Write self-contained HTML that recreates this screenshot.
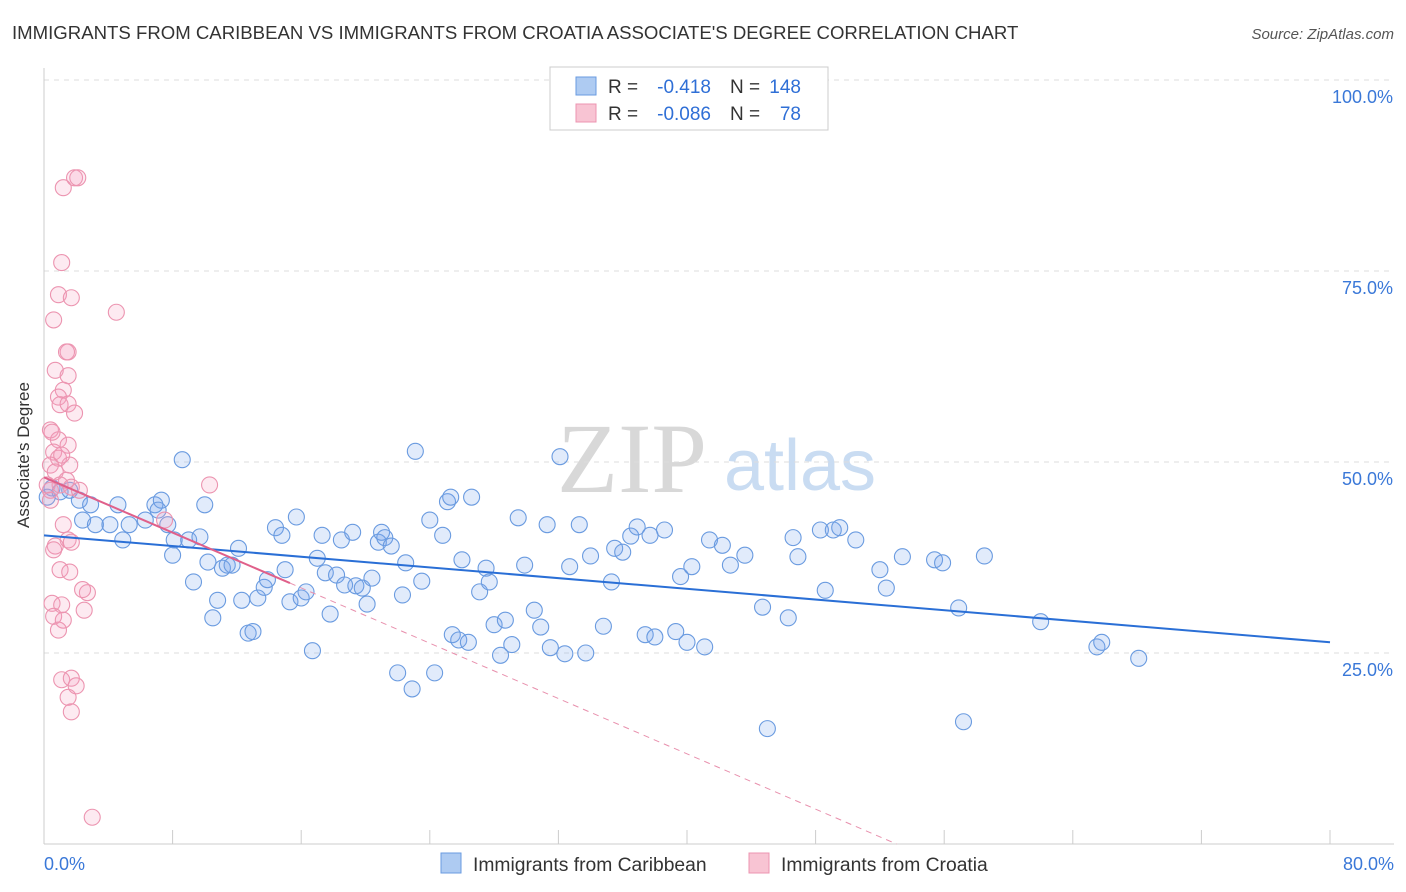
<!DOCTYPE html>
<html><head><meta charset="utf-8"><style>
body{margin:0;background:#fff;font-family:"Liberation Sans",sans-serif;}
#wrap{position:relative;width:1406px;height:892px;overflow:hidden}
</style></head><body>
<div id="wrap">
<svg id="chart" width="1406" height="892" xmlns="http://www.w3.org/2000/svg">
<text x="12" y="39" font-size="18.6" fill="#333">IMMIGRANTS FROM CARIBBEAN VS IMMIGRANTS FROM CROATIA ASSOCIATE'S DEGREE CORRELATION CHART</text>
<text x="1394" y="39" font-size="15" fill="#555" font-style="italic" text-anchor="end">Source: ZipAtlas.com</text>
<text x="632" y="492" font-size="100" fill="#d8d8d8" font-family="Liberation Serif,serif" text-anchor="middle">ZIP</text>
<text x="800" y="490" font-size="72" fill="#c9dcf2" text-anchor="middle">atlas</text>
<g id="grid"></g><g id="axes"></g><g id="pts"></g><g id="trends"></g>
<text x="29" y="455" font-size="17" fill="#333" text-anchor="middle" transform="rotate(-90 29 455)">Associate's Degree</text>
<g>
<rect x="550" y="67" width="278" height="63" fill="#fff" stroke="#ccc"/>
<rect x="576" y="77" width="20" height="18" fill="#aecbf2" stroke="#6a9be0"/>
<rect x="576" y="104" width="20" height="18" fill="#f8c4d3" stroke="#ec94b0"/>
<text x="608" y="93" font-size="19" fill="#333">R =</text>
<text x="711" y="93" font-size="19" fill="#2f6fd6" text-anchor="end">-0.418</text>
<text x="730" y="93" font-size="19" fill="#333">N =</text>
<text x="801" y="93" font-size="19" fill="#2f6fd6" text-anchor="end">148</text>
<text x="608" y="120" font-size="19" fill="#333">R =</text>
<text x="711" y="120" font-size="19" fill="#2f6fd6" text-anchor="end">-0.086</text>
<text x="730" y="120" font-size="19" fill="#333">N =</text>
<text x="801" y="120" font-size="19" fill="#2f6fd6" text-anchor="end">78</text>
</g>
<g>
<rect x="441" y="853" width="20" height="20" fill="#aecbf2" stroke="#6a9be0"/>
<text x="473" y="871" font-size="19.3" fill="#333">Immigrants from Caribbean</text>
<rect x="749" y="853" width="20" height="20" fill="#f8c4d3" stroke="#ec94b0"/>
<text x="781" y="871" font-size="19.3" fill="#333">Immigrants from Croatia</text>
</g>
</svg></div>
<script>
const xTicks=[0,10,20,30,40,50,60,70,80];
const yTicks=[25,50,75,100];
const blueX=[0.5,1.0,1.6,0.2,2.2,2.9,2.4,3.2,4.1,4.6,4.9,5.3,6.3,6.9,7.3,7.1,7.7,8.1,8.0,8.6,9.3,9.0,9.7,10.0,10.2,10.5,10.8,11.1,11.4,11.7,12.1,12.3,12.7,13.0,13.3,13.7,13.9,14.4,14.8,15.0,15.3,15.7,16.0,16.3,16.7,17.0,17.3,17.5,17.8,18.2,18.5,18.7,19.2,19.4,19.8,20.1,20.4,20.8,21.0,21.2,21.6,22.0,22.3,22.5,22.9,23.1,23.5,24.0,24.3,24.8,25.1,25.3,25.4,25.8,26.0,26.4,26.6,27.1,27.5,27.7,28.0,28.4,28.7,29.1,29.5,29.9,30.5,30.9,31.3,31.5,32.1,32.4,32.7,33.3,33.7,34.0,34.8,35.3,35.5,36.0,36.5,36.9,37.4,37.7,38.0,38.6,39.6,39.3,40.0,40.3,41.1,41.4,42.2,42.7,43.6,44.7,45.0,46.3,46.6,46.9,48.6,48.3,49.1,49.5,50.5,52.0,52.4,53.4,55.4,55.9,56.9,57.2,58.5,62.0,65.5,65.8,68.1];
const blueY=[46.6,46.1,46.3,45.4,45.0,44.4,42.4,41.8,41.8,44.4,39.8,41.8,42.4,44.4,45.0,43.7,41.8,39.8,37.8,50.3,34.3,39.8,40.2,44.4,36.9,29.6,31.9,36.1,36.5,36.5,38.7,31.9,27.6,27.8,32.2,33.6,34.6,41.4,40.4,35.9,31.7,42.8,32.2,33.0,25.3,37.4,40.4,35.5,30.1,35.2,39.8,33.9,40.8,33.8,33.5,31.4,34.8,39.5,40.8,40.1,39.0,22.4,32.6,36.8,20.3,51.4,34.4,42.4,22.4,40.4,44.8,45.4,27.4,26.7,37.2,26.4,45.4,33.0,36.1,34.3,28.7,24.7,29.3,26.1,42.7,36.5,30.6,28.4,41.8,25.7,50.7,24.9,36.3,41.8,25.0,37.7,28.5,34.3,38.7,38.2,40.3,41.5,27.4,40.4,27.1,41.1,35.0,27.8,26.4,36.3,25.8,39.8,39.1,36.5,37.8,31.0,15.1,29.6,40.1,37.6,33.2,41.1,41.1,41.4,39.8,35.9,33.5,37.6,37.2,36.8,30.9,16.0,37.7,29.1,25.8,26.4,24.3];
const pinkX=[1.2,1.9,2.1,1.1,0.9,1.7,0.6,4.5,1.5,1.4,0.7,1.5,1.2,0.9,1.0,1.5,1.9,0.4,0.9,1.5,0.6,0.9,0.4,1.6,0.7,1.4,0.4,1.0,1.7,2.2,10.3,1.2,1.5,1.7,0.7,0.6,1.0,1.6,2.7,2.4,2.5,0.5,1.1,0.6,1.2,0.9,1.1,1.7,1.5,2.0,1.7,3.0,7.5,0.2,0.5,1.1,0.4];
const pinkY=[85.9,87.2,87.2,76.1,71.9,71.5,68.6,69.6,64.4,64.4,62.0,61.3,59.4,58.5,57.5,57.6,56.4,54.2,52.9,52.2,51.3,50.5,49.6,49.6,48.7,47.6,46.3,47.0,46.7,46.3,47.0,41.8,39.8,39.5,39.0,38.5,35.9,35.6,32.9,33.3,30.6,31.5,31.3,29.8,29.3,28.0,21.5,21.7,19.2,20.7,17.3,3.5,42.4,47.0,53.9,50.9,45.0];
const blueTrend=[40.4,26.4];
const pinkTrend=[48.0,-0.905];
const X=v=>44+v*16.075, Y=v=>844-v*7.64;
const NS="http://www.w3.org/2000/svg";
function mk(tag,parent,attrs){const e=document.createElementNS(NS,tag);for(const k in attrs)e.setAttribute(k,attrs[k]);document.getElementById(parent).appendChild(e);return e;}
yTicks.forEach(t=>{
 const l=mk('line','grid',{x1:44,x2:1394,y1:Y(t),y2:Y(t),stroke:'#ddd','stroke-dasharray':'5,5'});
 
 
 const tx=mk('text','axes',{x:1393,y:Y(t)+23,'font-size':18,fill:'#3a78d8','text-anchor':'end'});
 tx.textContent=t.toFixed(1)+'%';
 
 
});
const ax=mk('line','axes',{x1:44,x2:1394,y1:844,y2:844,stroke:'#ccc'});


const ay=mk('line','axes',{x1:44,x2:44,y1:68,y2:844,stroke:'#ccc'});


for(let i=0;i<=10;i++){const v=i*8;
 const tk=mk('line','axes',{x1:X(v),x2:X(v),y1:830,y2:844,stroke:'#ccc'});
 
 }
[[0,'0.0%','start',44],[80,'80.0%','end',1394]].forEach(a=>{
 const t=mk('text','axes',{x:a[3],y:870,'font-size':18,fill:'#3a78d8','text-anchor':a[2]});t.textContent=a[1];
 
 });
blueX.forEach((x,i)=>{
 const c=mk('circle','pts',{cx:X(x),cy:Y(blueY[i]),r:8,fill:'rgba(120,165,235,0.22)',stroke:'#6a9be0','stroke-width':1.1});
 
 });
pinkX.forEach((x,i)=>{
 const c=mk('circle','pts',{cx:X(x),cy:Y(pinkY[i]),r:8,fill:'rgba(245,160,190,0.22)',stroke:'#ec94b0','stroke-width':1.1});
 
 });
const bl=mk('line','trends',{x1:X(0),y1:Y(blueTrend[0]),x2:X(80),y2:Y(blueTrend[1]),stroke:'#2a6fd6','stroke-width':2});


const pEnd=-pinkTrend[0]/pinkTrend[1];
const pd=mk('line','trends',{x1:X(15.3),y1:Y(pinkTrend[0]+pinkTrend[1]*15.3),x2:X(pEnd),y2:Y(0),stroke:'#e890ad','stroke-width':1,'stroke-dasharray':'6,5'});


const pl=mk('line','trends',{x1:X(0),y1:Y(pinkTrend[0]),x2:X(15.3),y2:Y(pinkTrend[0]+pinkTrend[1]*15.3),stroke:'#e0608a','stroke-width':2});


</script>
</body></html>
